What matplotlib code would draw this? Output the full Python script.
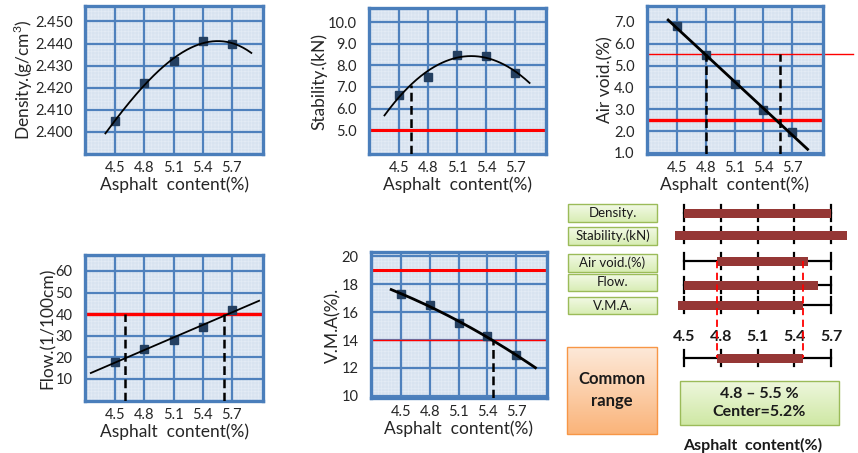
import numpy as np
import matplotlib
matplotlib.use('Agg')
import matplotlib.pyplot as plt
from matplotlib.patches import Rectangle

W, H = 858, 453
plt.rcParams['font.family'] = ['Lato', 'DejaVu Sans']
plt.rcParams['hatch.linewidth'] = 0.5
plt.rcParams['mathtext.fontset'] = 'custom'
plt.rcParams['mathtext.rm'] = 'Lato'

# ---------------- data ----------------
asphalt = [4.5, 4.8, 5.1, 5.4, 5.7]
density = [2.405, 2.422, 2.432, 2.441, 2.440]
stability = [6.65, 7.45, 8.50, 8.45, 7.65]
air_void = [6.80, 5.50, 4.15, 2.95, 1.95]
flow = [18, 24, 28, 34, 42]
vma = [17.3, 16.5, 15.2, 14.3, 12.9]

x_ticks = [4.5, 4.8, 5.1, 5.4, 5.7]
x_tick_labels = ['4.5', '4.8', '5.1', '5.4', '5.7']
density_ticks = [2.400, 2.410, 2.420, 2.430, 2.440, 2.450]
stability_ticks = [5, 6, 7, 8, 9, 10]
air_ticks = [1, 2, 3, 4, 5, 6, 7]
flow_ticks = [10, 20, 30, 40, 50, 60]
vma_ticks = [10, 12, 14, 16, 18, 20]

stability_min = [5.0]
air_void_limits = [2.5, 5.55]
flow_max = [40]
vma_limits = [14, 19]

stability_cut = [4.62]
air_void_cut = [4.80, 5.57]
flow_cut = [4.60, 5.62]
vma_cut = [5.46]

range_names = ['Density.', 'Stability.(kN)', 'Air void.(%)', 'Flow.', 'V.M.A.']
range_lo = [4.50, 4.43, 4.77, 4.50, 4.45]
range_hi = [5.70, 5.83, 5.51, 5.59, 5.47]
common_lo = 4.77
common_hi = 5.47
result_text = '4.8 – 5.5 %\nCenter=5.2%'

# ---------------- figure ----------------
fig = plt.figure(figsize=(W / 100, H / 100), dpi=100)

GRID = '#4f81bd'
SPINE = '#4a7ebb'
RED = '#ff0000'
MARK = '#243f60'


def make_panel(l, r, t, b, ylim, yticks, yfmt, ylabel):
    ax = fig.add_axes([l / W, 1 - b / H, (r - l) / W, (b - t) / H])
    ax.set_xlim(4.19, 6.02)
    ax.set_ylim(*ylim)
    ax.set_facecolor('#d8e3f0')
    ax.add_patch(Rectangle((0, 0), 1, 1, transform=ax.transAxes, facecolor='none',
                           edgecolor='#e3ebf5', hatch='+++++', lw=0, zorder=0.2))
    ax.set_xticks(x_ticks)
    ax.set_xticklabels(x_tick_labels)
    ax.set_yticks(yticks)
    ax.set_yticklabels([yfmt.format(v) for v in yticks])
    ax.grid(True, color=GRID, lw=1.6, zorder=0.5)
    ax.set_axisbelow(True)
    for s in ax.spines.values():
        s.set_color(SPINE)
        s.set_linewidth(2.4)
    ax.tick_params(length=0, labelsize=10.5, colors='#262626', pad=5)
    ax.tick_params(axis='y', pad=9)
    ax.set_xlabel('Asphalt  content(%)', fontsize=12.5, color='#262626', labelpad=1)
    ax.set_ylabel(ylabel, fontsize=12.5, color='#262626', labelpad=0)
    return ax


def fit_curve(ax, y, deg, span, lw):
    coef = np.polyfit(asphalt, y, deg)
    xs = np.linspace(span[0], span[1], 200)
    ax.plot(xs, np.polyval(coef, xs), color='black', lw=lw, zorder=3)
    ax.plot(asphalt, y, 's', color=MARK, ms=6, zorder=2.5)
    return coef


def cut(ax, x, top):
    ax.plot([x, x], [ax.get_ylim()[0], top], color='black', lw=1.8,
            ls=(0, (3.5, 1.8)), zorder=2.8)


# Density
ax1 = make_panel(85, 263, 6, 154, (2.390, 2.457), density_ticks, '{:.3f}',
                 'Density.(g/cm$^3$)')
fit_curve(ax1, density, 3, (4.4, 5.9), 1.3)

# Stability
ax2 = make_panel(369, 546, 8, 154, (3.9, 10.65), stability_ticks, '{:.1f}',
                 'Stability.(kN)')
c2 = fit_curve(ax2, stability, 2, (4.35, 5.85), 1.3)
ax2.axhline(stability_min[0], color=RED, lw=2.2, zorder=2)
cut(ax2, stability_cut[0], np.polyval(c2, stability_cut[0]))

# Air void
ax3 = make_panel(647, 823, 6, 154, (0.95, 7.73), air_ticks, '{:.1f}', 'Air void.(%)')
fit_curve(ax3, air_void, 1, (4.41, 5.86), 2.0)
ax3.axhline(air_void_limits[0], color=RED, lw=2.4, zorder=2)
ax3.axhline(air_void_limits[1], xmin=0, xmax=1.17, color=RED, lw=1.0, zorder=2, clip_on=False)
for xc in air_void_cut:
    cut(ax3, xc, air_void_limits[1])

# Flow
ax4 = make_panel(85, 263, 255, 401, (-0.2, 67.4), flow_ticks, '{:d}', 'Flow.(1/100cm)')
fit_curve(ax4, flow, 1, (4.25, 5.98), 1.3)
ax4.axhline(flow_max[0], color=RED, lw=2.4, zorder=2)
for xc in flow_cut:
    cut(ax4, xc, flow_max[0])

# VMA
ax5 = make_panel(371, 547, 252, 398, (9.85, 20.3), vma_ticks, '{:d}', 'V.M.A(%).')
fit_curve(ax5, vma, 2, (4.4, 5.9), 2.0)
ax5.axhline(vma_limits[1], color=RED, lw=2.2, zorder=2)
ax5.axhline(vma_limits[0], color=RED, lw=1.0, zorder=2)
cut(ax5, vma_cut[0], vma_limits[0])

# ---------------- summary panel ----------------
ax6 = fig.add_axes([560 / W, 0, (W - 560) / W, (H - 190) / H])
ax6.axis('off')
px_per_unit = (831 - 684) / 1.2
x_left = 4.5 - (684 - 560) / px_per_unit
x_right = 5.7 + (W - 831) / px_per_unit


def px2x(px):
    return x_left + (px - 560) / px_per_unit


def gradient_box(x0, x1, y0, y1, c_top, c_bot, edge, lw=1.0):
    ct = np.array(matplotlib.colors.to_rgb(c_top))
    cb = np.array(matplotlib.colors.to_rgb(c_bot))
    t = np.linspace(0, 1, 64)[:, None, None]
    img = ct * (1 - t) + cb * t
    im = ax6.imshow(img, extent=[x0, x1, y1, y0], origin='upper', aspect='auto', zorder=1)
    rect = Rectangle((x0, y0), x1 - x0, y1 - y0, facecolor='none', edgecolor=edge,
                     lw=lw, zorder=2)
    ax6.add_patch(rect)
    im.set_clip_path(rect)


row_y = [23, 45, 71, 95, 115]
box_y = [(14, 32), (37, 55), (64, 82), (84, 101), (107, 124)]
BAR = '#953735'

for name, lo, hi, yc, (by0, by1) in zip(range_names, range_lo, range_hi, row_y, box_y):
    gradient_box(px2x(568), px2x(657), by0, by1, '#f2f9e6', '#d8edb4', '#9bbb59')
    ax6.text((px2x(568) + px2x(657)) / 2, (by0 + by1) / 2, name, ha='center',
             va='center', fontsize=9.5, color='#1a1a1a', zorder=3)
    ax6.plot([x_ticks[0], x_ticks[-1]], [yc, yc], color='black', lw=1.6, zorder=2)
    for xt in x_ticks:
        ax6.plot([xt, xt], [yc - 8, yc + 8], color='black', lw=1.6, zorder=2)
    ax6.barh(yc, hi - lo, left=lo, height=9, color=BAR, zorder=3)

# common range row
cy = 168
ax6.plot([x_ticks[0], x_ticks[-1]], [cy, cy], color='black', lw=1.6, zorder=2)
for xt in x_ticks:
    ax6.plot([xt, xt], [cy - 8, cy + 8], color='black', lw=1.6, zorder=2)
ax6.barh(cy, common_hi - common_lo, left=common_lo, height=9, color=BAR, zorder=3)
for xc in (common_lo, common_hi):
    ax6.plot([xc, xc], [row_y[2], cy], color=RED, lw=1.3, ls=(0, (4, 2.5)), zorder=4)

for xt, lab in zip(x_ticks, x_tick_labels):
    ax6.text(xt, 147, lab, ha='center', va='center', fontsize=11.5,
             fontweight='bold', color='#1a1a1a')

gradient_box(px2x(567), px2x(657), 157, 244, '#fde9d9', '#fab47a', '#f79646')
ax6.text((px2x(567) + px2x(657)) / 2, 200, 'Common\nrange', ha='center', va='center',
         fontsize=12, fontweight='bold', color='#1a1a1a', zorder=3, linespacing=1.4)

gradient_box(px2x(680), px2x(839), 191, 235, '#eef7dd', '#cfe8a4', '#9bbb59')
ax6.text((px2x(680) + px2x(839)) / 2, 213, result_text, ha='center', va='center',
         fontsize=11.5, fontweight='bold', color='#1a1a1a', zorder=3, linespacing=1.3)

ax6.text(px2x(753), 255, 'Asphalt  content(%)', ha='center', va='center',
         fontsize=11.5, fontweight='bold', color='#1a1a1a')

ax6.set_xlim(x_left, x_right)
ax6.set_ylim(H - 190, 0)

fig.savefig('out.png', dpi=100)
